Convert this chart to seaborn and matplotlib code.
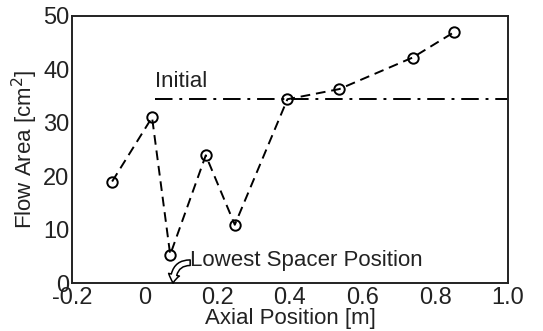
import matplotlib
matplotlib.use("Agg")
import matplotlib.pyplot as plt
import seaborn as sns
import pandas as pd

axial_pos = [-0.09, 0.02, 0.07, 0.168, 0.248, 0.393, 0.536, 0.738, 0.851]
flow_area = [19.0, 31.0, 5.3, 23.9, 10.9, 34.4, 36.3, 42.2, 46.9]
initial_area = 34.5
initial_start = 0.028
x_ticks = [-0.2, 0, 0.2, 0.4, 0.6, 0.8, 1.0]
x_tick_labels = ["-0.2", "0", "0.2", "0.4", "0.6", "0.8", "1.0"]
y_ticks = [0, 10, 20, 30, 40, 50]
spacer_x = 0.078

sns.set_theme(style="white")
plt.rcParams['font.family'] = ['Liberation Sans', 'DejaVu Sans']

fig = plt.figure(figsize=(5.43, 3.31), dpi=100)
ax = fig.add_axes([0.133, 0.145, 0.802, 0.807])

df = pd.DataFrame({"x": axial_pos, "y": flow_area})
sns.lineplot(data=df, x="x", y="y", ax=ax, color="black", linestyle=(0, (5, 3)),
             linewidth=1.4, marker="o", markersize=7.5, markerfacecolor="none",
             markeredgecolor="black", markeredgewidth=1.4, sort=False)

ax.plot([initial_start, 1.0], [initial_area, initial_area], color="black",
        linewidth=1.4, linestyle=(0, (9, 3.5, 1.5, 3.5)))
ax.text(initial_start, initial_area + 1.2, "Initial", fontsize=16, ha="left", va="bottom",
        color="#222222")

ax.text(0.125, 4.3, "Lowest Spacer Position", fontsize=16, ha="left", va="center",
        color="#222222")
ax.annotate("", xy=(spacer_x, 0.0), xytext=(0.125, 3.8),
            arrowprops=dict(arrowstyle="simple,head_length=0.6,head_width=0.8,tail_width=0.4",
                            fc="white", ec="black", lw=1.1, mutation_scale=10,
                            connectionstyle="angle3,angleA=0,angleB=90",
                            shrinkA=0, shrinkB=0))

ax.set_xlim(-0.2, 1.0)
ax.set_ylim(0, 50)
ax.set_xticks(x_ticks)
ax.set_xticklabels(x_tick_labels)
ax.set_yticks(y_ticks)
ax.tick_params(direction="in", length=7, width=1.4, labelsize=17, colors="black",
               labelcolor="#222222", pad=2)
ax.tick_params(axis="x", pad=3)
for s in ax.spines.values():
    s.set_color("#222222")
    s.set_linewidth(1.4)
ax.set_xlabel("Axial Position [m]", fontsize=16, color="#222222", labelpad=-1)
ax.set_ylabel("Flow Area [cm$^2$]", fontsize=16, color="#222222", labelpad=2)

fig.savefig("out.png", dpi=100)
